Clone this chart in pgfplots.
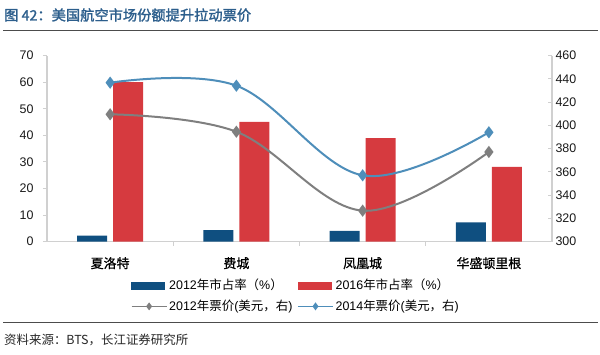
\documentclass[border=0pt]{standalone}
\usepackage{pgfplots}
\pgfplotsset{compat=1.18}
\usepackage{fontspec}
\setmainfont{Liberation Sans}
\newfontfamily\cjk{Noto Sans CJK SC}
\newfontfamily\cjkb[FakeBold=1.6]{Noto Sans CJK SC}
\newfontfamily\cjkm[FakeBold=0.8]{Noto Sans CJK SC}
\definecolor{barblue}{HTML}{0F4F80}
\definecolor{barred}{HTML}{D63A3F}
\definecolor{lineblue}{HTML}{4E8EBA}
\definecolor{linegray}{HTML}{7F7F7F}
\definecolor{axisgray}{HTML}{D0D0D0}
\definecolor{titleblue}{HTML}{2C5E8C}
\pgfplotsset{mylineleg/.style={legend image code/.code={\draw[##1, line width=1.2bp, mark size=3bp, mark repeat=2, mark phase=2] plot coordinates {(0bp,0bp) (17.5bp,0bp) (35bp,0bp)};}}}
\begin{document}
\begin{tikzpicture}[x=1bp,y=1bp]
\useasboundingbox (0,0) rectangle (600,354);
\node[anchor=west, text=titleblue, inner sep=0pt, font=\cjkb\fontsize{14.3}{16}\selectfont] at (4,339) {图 42：美国航空市场份额提升拉动票价};
\draw[black!70, line width=0.9bp] (3,324) -- (598,324);
\draw[black!70, line width=0.9bp] (3,32) -- (598,32);
\node[anchor=west, inner sep=0pt, text=black!85, font=\cjk\fontsize{12.5}{14}\selectfont] at (4,14) {资料来源：BTS，长江证券研究所};

\begin{axis}[
  at={(47bp,112.3bp)}, anchor=south west, scale only axis,
  width=505bp, height=186bp,
  xmin=-0.5, xmax=3.5, ymin=0, ymax=70,
  ytick={0,10,...,70},
  /pgf/number format/assume math mode=true,
  axis y line*=left, axis x line*=bottom,
  axis line style={axisgray, line width=1.2bp, -},
  ybar=6bp, bar width=30bp,
  xtick={0,1,2,3},
  xticklabels={夏洛特,费城,凤凰城,华盛顿里根},
  xticklabel style={font=\cjkm\fontsize{13}{15}\selectfont, yshift=-8bp},
  minor xtick={0.5,1.5,2.5},
  major x tick style={draw=none},
  minor x tick style={axisgray, line width=1bp},
  ytick style={axisgray, line width=1bp},
  major tick length=4bp, minor tick length=4bp,
  tick align=outside,
  yticklabel style={font=\fontsize{12.5}{14}\selectfont, text=black!90, xshift=-6bp},
]
\addplot[fill=barblue, draw=none] coordinates {(0,2.3) (1,4.4) (2,4.1) (3,7.3)};
\addplot[fill=barred, draw=none] coordinates {(0,60.1) (1,45.1) (2,39.0) (3,28.2)};
\end{axis}

\begin{axis}[
  at={(47bp,112.3bp)}, anchor=south west, scale only axis,
  width=505bp, height=186bp,
  xmin=-0.5, xmax=3.5, ymin=300, ymax=460,
  ytick={300,320,...,460},
  /pgf/number format/assume math mode=true,
  axis y line*=right, axis x line=none,
  axis line style={axisgray, line width=1.2bp, -},
  ytick style={axisgray, line width=1bp},
  major tick length=4bp, tick align=inside,
  yticklabel style={font=\fontsize{12.5}{14}\selectfont, text=black!90},
  legend columns=2,
  legend cell align=left,
  legend style={draw=none, fill=none, at={(0.166,-0.19)}, anchor=north west,
    font=\fontsize{12.5}{15}\selectfont, inner sep=0pt, row sep=5bp,
    /tikz/every even column/.append style={column sep=3bp}},
]
\addlegendimage{legend image code/.code={\fill[barblue] (0bp,-3.5bp) rectangle (33bp,3.5bp);}}
\addlegendentry{2012{\cjk 年市占率（}\%{\cjk ）}}
\addlegendimage{legend image code/.code={\fill[barred] (0bp,-3.5bp) rectangle (33bp,3.5bp);}}
\addlegendentry{2016{\cjk 年市占率（}\%{\cjk ）}}
\addplot[linegray, line width=2bp, smooth, tension=0.6, mark=diamond*, mark size=4.5bp,
  mark options={fill=linegray, draw=linegray, solid}, mylineleg]
  coordinates {(0,409.6) (1,394.6) (2,326.7) (3,377.2)};
\addlegendentry{2012{\cjk 年票价}({\cjk 美元，右})}
\addplot[lineblue, line width=2bp, smooth, tension=0.6, mark=diamond*, mark size=4.5bp,
  mark options={fill=lineblue, draw=lineblue, solid}, mylineleg]
  coordinates {(0,436.8) (1,434.2) (2,357.1) (3,394.1)};
\addlegendentry{2014{\cjk 年票价}({\cjk 美元，右})}
\end{axis}
\end{tikzpicture}
\end{document}
